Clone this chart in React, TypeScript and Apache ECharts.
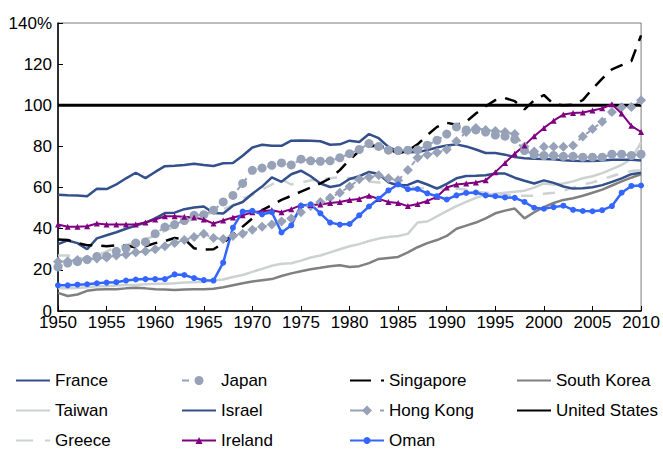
import React, { useEffect, useRef } from "react";
import * as echarts from "echarts";

const years = [
  1950, 1951, 1952, 1953, 1954, 1955, 1956, 1957, 1958, 1959,
  1960, 1961, 1962, 1963, 1964, 1965, 1966, 1967, 1968, 1969,
  1970, 1971, 1972, 1973, 1974, 1975, 1976, 1977, 1978, 1979,
  1980, 1981, 1982, 1983, 1984, 1985, 1986, 1987, 1988, 1989,
  1990, 1991, 1992, 1993, 1994, 1995, 1996, 1997, 1998, 1999,
  2000, 2001, 2002, 2003, 2004, 2005, 2006, 2007, 2008, 2009, 2010,
];

const france = [
  56.5, 56.3, 56.2, 55.8, 59.4, 59.3, 61.5, 64.5, 67.2, 64.6,
  67.6, 70.4, 70.6, 71.0, 71.6, 71.0, 70.5, 71.8, 71.9, 75.5,
  79.5, 80.8, 80.3, 80.3, 82.8, 82.9, 82.8, 82.5, 80.8, 81.0,
  82.8, 82.2, 86.0, 84.0, 79.8, 77.5, 77.2, 77.3, 78.2, 79.5,
  80.5, 81.0, 80.0, 78.5, 76.8, 76.8, 76.0, 74.8, 74.3, 74.0,
  73.9, 73.8, 73.3, 73.0, 72.9, 72.9, 73.2, 73.5, 73.5, 73.5, 73.2,
];

const japan = [
  21.4, 23.3, 24.0, 25.0, 26.5, 26.6, 29.0, 30.5, 33.0, 33.6,
  37.6, 40.8, 42.0, 44.0, 46.5, 46.8, 49.0, 53.0, 56.2, 62.0,
  68.4, 69.5, 70.8, 72.0, 71.0, 73.8, 73.0, 72.8, 73.0, 74.5,
  76.5, 78.5, 81.4, 80.0, 78.2, 78.0, 78.2, 78.3, 80.6, 83.0,
  86.0, 89.5, 88.0, 88.0, 87.0, 85.5, 85.0, 83.5, 78.0, 76.0,
  75.6, 75.6, 75.2, 75.2, 74.8, 74.8, 74.8, 76.2, 76.2, 75.6, 76.2,
];

const singapore = [
  34.8, 34.5, 33.0, 32.0, 32.0, 31.5, 32.0, 32.0, 30.8, 31.5,
  33.0, 34.0, 35.5, 35.0, 30.5, 29.8, 30.0, 33.0, 37.0, 41.0,
  45.0, 49.0, 51.5, 54.0, 56.0, 58.0, 60.0, 62.0, 64.5, 68.5,
  73.5, 77.8, 80.0, 80.5, 79.0, 76.5, 78.0, 81.0, 85.5, 89.5,
  91.5, 90.5, 92.0, 96.0, 99.5, 102.5, 103.5, 102.0, 98.0, 102.5,
  105.0, 100.5, 100.0, 100.3, 102.5, 108.0, 113.0, 117.5, 119.5, 121.5, 134.0,
];

const southKorea = [
  8.8, 7.3, 8.0, 9.8, 10.5, 10.6, 10.6, 11.0, 11.3, 11.0,
  10.6, 10.5, 10.2, 10.4, 10.6, 10.6, 10.8, 11.5, 12.5, 13.5,
  14.3, 15.0, 15.5, 17.0, 18.3, 19.3, 20.3, 21.0, 21.8, 22.2,
  21.4, 21.8, 23.3, 25.3, 25.8, 26.3, 28.5, 31.0, 33.0, 34.5,
  36.5, 40.0, 41.5, 43.0, 45.0, 47.5, 48.8, 49.8, 45.0, 48.0,
  50.5, 52.5, 54.0, 54.8, 56.0, 57.5, 59.0, 61.0, 63.0, 64.8, 66.5,
];

const taiwan = [
  11.0, 11.0, 11.2, 11.6, 12.0, 12.0, 12.4, 12.6, 12.6, 13.0,
  13.3, 13.3, 13.5, 13.8, 14.0, 14.2, 14.8, 15.3, 16.5, 17.5,
  19.0, 20.5, 22.0, 23.0, 23.2, 24.5, 26.0, 27.0, 28.5, 30.0,
  31.5, 32.5, 34.0, 35.2, 36.0, 36.5, 37.5, 43.0, 43.5, 46.0,
  48.5, 51.0, 53.0, 55.0, 56.5, 57.0, 57.5, 58.0, 58.5, 60.0,
  62.0, 61.5, 62.0, 63.0, 64.5, 65.5, 67.0, 69.0, 71.0, 74.0, 82.0,
];

const israel = [
  32.5, 34.3, 33.0, 30.0, 35.3, 36.8, 38.3, 40.0, 41.5, 43.0,
  45.0, 47.6, 47.8, 49.5, 50.3, 50.8, 47.6, 47.4, 51.2, 53.0,
  57.0, 60.5, 65.0, 62.8, 66.5, 68.2, 65.5, 62.0, 60.3, 61.1,
  64.2, 65.5, 67.6, 66.6, 62.5, 61.0, 61.3, 63.2, 61.5, 59.5,
  61.8, 64.5, 65.6, 65.7, 66.0, 66.8, 66.8, 64.8, 63.3, 62.0,
  63.5, 62.3, 60.5, 59.5, 59.7, 60.2, 61.2, 62.8, 64.5, 66.5, 67.2,
];

const hongKong = [
  24.0, 24.2, 24.8, 25.0, 25.5, 26.0, 27.0, 27.5, 28.5, 29.0,
  30.0, 31.5, 33.0, 34.5, 36.0, 37.5, 35.5, 35.0, 36.5, 37.5,
  39.5, 41.0, 42.0, 43.5, 45.0, 48.0, 51.0, 53.0, 55.0, 57.5,
  60.5, 64.0, 65.0, 66.0, 64.5, 63.5, 68.5, 74.5, 76.0, 77.0,
  78.5, 82.5, 87.0, 89.0, 88.0, 87.5, 87.0, 86.0, 80.0, 77.5,
  79.8, 79.8, 79.8, 80.5, 84.8, 88.5, 92.0, 96.7, 99.0, 99.2, 102.4,
];

const unitedStates = [
  100, 100, 100, 100, 100, 100, 100, 100, 100, 100,
  100, 100, 100, 100, 100, 100, 100, 100, 100, 100,
  100, 100, 100, 100, 100, 100, 100, 100, 100, 100,
  100, 100, 100, 100, 100, 100, 100, 100, 100, 100,
  100, 100, 100, 100, 100, 100, 100, 100, 100, 100,
  100, 100, 100, 100, 100, 100, 100, 100, 100, 100, 100,
];

const greece = [
  27.0, 27.0, 26.0, 25.0, 27.0, 29.0, 31.0, 32.0, 33.5, 35.0,
  36.5, 39.0, 41.0, 43.0, 45.0, 46.5, 48.0, 49.5, 51.5, 54.5,
  56.5, 59.0, 61.5, 64.0, 61.5, 62.5, 63.5, 63.8, 64.5, 65.0,
  64.5, 63.5, 63.0, 62.5, 62.0, 62.0, 61.0, 59.5, 60.0, 60.0,
  59.0, 59.5, 59.0, 58.0, 57.5, 57.0, 56.5, 56.0, 56.0, 56.0,
  57.0, 57.5, 58.5, 60.0, 61.5, 62.5, 64.0, 65.5, 67.0, 68.0, 68.5,
];

const ireland = [
  42.0, 41.0, 41.0, 41.2, 42.5, 42.0, 42.0, 42.0, 42.0, 43.0,
  44.5, 46.0, 46.0, 45.8, 45.5, 44.5, 42.5, 44.0, 45.5, 46.5,
  48.0, 48.5, 49.0, 48.0, 49.5, 51.5, 51.5, 51.8, 52.5, 53.0,
  54.0, 54.5, 56.0, 54.5, 53.0, 52.5, 51.0, 52.0, 53.5, 55.5,
  60.0, 61.5, 62.0, 62.5, 63.5, 67.5, 72.0, 76.5, 80.5, 85.0,
  89.0, 92.5, 95.5, 96.2, 96.5, 97.5, 98.5, 100.5, 96.0, 90.0, 87.0,
];

const oman = [
  12.5, 12.5, 12.8, 13.0, 13.5, 13.8, 14.0, 14.8, 15.3, 15.5,
  15.5, 15.5, 17.8, 17.5, 16.0, 15.0, 14.8, 23.5, 40.5, 48.3,
  48.7, 47.0, 48.0, 38.2, 41.6, 51.2, 51.8, 47.5, 43.0, 42.0,
  42.3, 46.5, 50.8, 54.6, 58.6, 61.5, 59.2, 59.3, 57.2, 55.8,
  54.2, 56.2, 57.4, 57.6, 56.2, 55.8, 55.2, 55.0, 53.0, 50.2,
  49.7, 50.5, 51.2, 49.2, 48.6, 48.5, 49.0, 51.0, 57.5, 60.8, 61.0,
];

const yTicks = [0, 20, 40, 60, 80, 100, 120, 140];

const FONT = "'Liberation Sans', Arial, sans-serif";
const FS = 17;

const NAVY = "#34508C";
const GRAYBLUE = "#97A2B8";
const LIGHT = "#CCD2D2";

type Def = {
  name: string;
  data: number[];
  color: string;
  width: number;
  type?: any;
  symbol?: string;
  symbolSize?: number;
};

const defs: Def[] = [
  { name: "Taiwan", data: taiwan, color: LIGHT, width: 2.5 },
  { name: "Greece", data: greece, color: LIGHT, width: 2.5, type: [12, 10] },
  { name: "South Korea", data: southKorea, color: "#808080", width: 2.5 },
  { name: "France", data: france, color: NAVY, width: 2.5 },
  { name: "Israel", data: israel, color: NAVY, width: 2.5 },
  { name: "Japan", data: japan, color: GRAYBLUE, width: 2, type: [5, 5], symbol: "circle", symbolSize: 9 },
  { name: "Hong Kong", data: hongKong, color: GRAYBLUE, width: 2, type: [5, 5], symbol: "diamond", symbolSize: 10 },
  { name: "Singapore", data: singapore, color: "#000000", width: 2.5, type: [13, 9] },
  { name: "United States", data: unitedStates, color: "#000000", width: 3 },
  { name: "Ireland", data: ireland, color: "#800080", width: 2, symbol: "triangle", symbolSize: 6 },
  { name: "Oman", data: oman, color: "#3366FF", width: 2.5, symbol: "circle", symbolSize: 6 },
];

// legend placement: column left edge, row index, icon dash, marker size (0 = no marker)
const legendLayout: { name: string; left: number; row: number; dash: any; mark: number }[] = [
  { name: "France", left: 15, row: 0, dash: "solid", mark: 0 },
  { name: "Japan", left: 181, row: 0, dash: [7, 100], mark: 9 },
  { name: "Singapore", left: 349, row: 0, dash: [21, 10], mark: 0 },
  { name: "South Korea", left: 516, row: 0, dash: "solid", mark: 0 },
  { name: "Taiwan", left: 15, row: 1, dash: "solid", mark: 0 },
  { name: "Israel", left: 181, row: 1, dash: "solid", mark: 0 },
  { name: "Hong Kong", left: 349, row: 1, dash: [20, 10], mark: 10 },
  { name: "United States", left: 516, row: 1, dash: "solid", mark: 0 },
  { name: "Greece", left: 15, row: 2, dash: [17, 12], mark: 0 },
  { name: "Ireland", left: 181, row: 2, dash: "solid", mark: 7 },
  { name: "Oman", left: 349, row: 2, dash: "solid", mark: 7 },
];

export default function App() {
  const ref = useRef<HTMLDivElement>(null);
  useEffect(() => {
    if (!ref.current) return;
    const chart = echarts.init(ref.current, null, { renderer: "svg" });
    const series = defs.map((d) => ({
      name: d.name,
      type: "line",
      data: d.data,
      showSymbol: !!d.symbol,
      showAllSymbol: true,
      symbol: d.symbol || "none",
      symbolSize: d.symbolSize || 0,
      lineStyle: { color: d.color, width: d.width, type: d.type || "solid" },
      itemStyle: { color: d.color, borderWidth: 0 },
      emphasis: { disabled: true },
      silent: true,
    }));
    const legends = legendLayout.map((l) => {
      const h = l.mark ? l.mark / 0.8 : 12;
      return {
        show: true,
        data: [l.name],
        left: l.left,
        top: 382 + l.row * 30 - 10,
        height: 20,
        orient: "horizontal",
        padding: 0,
        itemWidth: 34,
        itemHeight: h,
        itemGap: 0,
        selectedMode: false,
        lineStyle: { type: l.dash },
        itemStyle: l.mark ? { borderWidth: 0 } : { opacity: 0 },
        textStyle: { fontSize: FS, color: "#000", fontFamily: FONT },
      };
    });
    chart.setOption({
      animation: false,
      backgroundColor: "#ffffff",
      grid: {
        left: 58,
        right: 21,
        top: 23,
        bottom: 141,
        show: true,
        borderColor: "#7a7a7a",
        borderWidth: 1,
      },
      legend: legends,
      xAxis: {
        type: "category",
        data: years,
        boundaryGap: false,
        axisLine: { show: true, lineStyle: { color: "#000", width: 1.5 } },
        axisTick: { show: true, inside: true, interval: 4, length: 5, lineStyle: { color: "#000" } },
        axisLabel: { interval: 4, fontSize: FS, color: "#000", fontFamily: FONT, margin: 3 },
        splitLine: { show: false },
      },
      yAxis: {
        type: "value",
        min: yTicks[0],
        max: yTicks[yTicks.length - 1],
        interval: 20,
        axisLine: { show: true, lineStyle: { color: "#000", width: 1.5 } },
        axisTick: { show: true, inside: true, length: 5, lineStyle: { color: "#000" } },
        axisLabel: {
          fontSize: FS,
          color: "#000",
          fontFamily: FONT,
          margin: 6,
          formatter: (v: number) => (v === 140 ? "140%" : String(v)),
        },
        splitLine: { show: false },
      },
      series,
    });
    return () => chart.dispose();
  }, []);
  return (
    <div
      ref={ref}
      style={{ position: "fixed", left: 0, top: 0, width: 663, height: 452, background: "#fff" }}
    />
  );
}
